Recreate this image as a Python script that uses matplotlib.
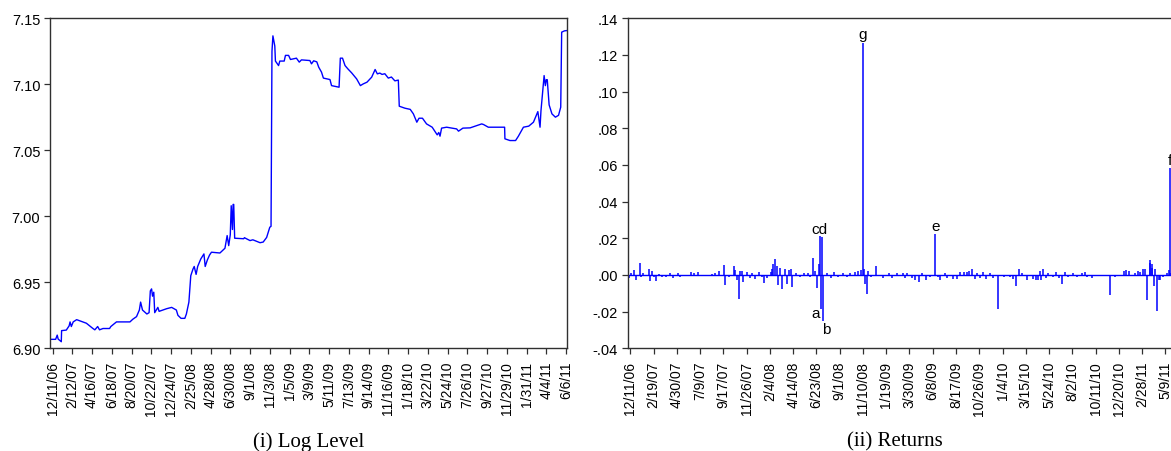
import numpy as np
import pandas as pd
import matplotlib
matplotlib.use("Agg")
import matplotlib.pyplot as plt
import matplotlib.dates as mdates
from matplotlib.ticker import FuncFormatter, FixedLocator

plt.rcParams['font.family'] = ['Liberation Sans', 'DejaVu Sans']

# (i) log level at its turning points
level_dates = [
    "2006-12-04", "2006-12-21", "2006-12-26", "2006-12-29", "2007-01-08", "2007-01-09",
    "2007-01-24", "2007-02-02", "2007-02-05", "2007-02-09", "2007-02-15", "2007-02-26",
    "2007-03-29", "2007-04-19", "2007-04-25", "2007-05-04", "2007-05-10", "2007-05-21",
    "2007-06-11", "2007-06-15", "2007-07-03", "2007-08-15", "2007-08-24", "2007-09-05",
    "2007-09-14", "2007-09-18", "2007-09-24", "2007-10-08", "2007-10-15", "2007-10-19",
    "2007-10-23", "2007-10-26", "2007-10-30", "2007-11-02", "2007-11-07", "2007-11-12",
    "2007-11-16", "2007-12-10", "2007-12-26", "2008-01-10", "2008-01-15", "2008-01-25",
    "2008-02-06", "2008-02-11", "2008-02-19", "2008-02-25", "2008-03-03", "2008-03-07",
    "2008-03-13", "2008-03-18", "2008-03-28", "2008-04-07", "2008-04-11", "2008-04-18",
    "2008-04-25", "2008-05-01", "2008-05-28", "2008-06-13", "2008-06-20", "2008-06-25",
    "2008-06-30", "2008-07-03", "2008-07-07", "2008-07-09", "2008-07-11", "2008-07-14",
    "2008-08-12", "2008-08-14", "2008-09-01", "2008-09-10", "2008-10-03", "2008-10-13",
    "2008-10-24", "2008-11-03", "2008-11-07", "2008-11-10", "2008-11-13", "2008-11-19",
    "2008-11-21", "2008-12-01", "2008-12-05", "2008-12-19", "2008-12-23", "2009-01-02",
    "2009-01-08", "2009-01-27", "2009-02-05", "2009-02-12", "2009-03-11", "2009-03-16",
    "2009-03-23", "2009-04-02", "2009-04-08", "2009-04-17", "2009-04-23", "2009-05-14",
    "2009-05-19", "2009-06-12", "2009-06-16", "2009-06-23", "2009-07-01", "2009-07-10",
    "2009-07-22", "2009-08-07", "2009-08-19", "2009-08-28", "2009-09-09", "2009-09-24",
    "2009-10-05", "2009-10-12", "2009-10-20", "2009-10-27", "2009-11-05", "2009-11-16",
    "2009-11-26", "2009-12-07", "2009-12-18", "2009-12-21", "2010-01-08", "2010-01-25",
    "2010-02-04", "2010-02-15", "2010-02-22", "2010-03-05", "2010-03-18", "2010-04-05",
    "2010-04-21", "2010-04-26", "2010-04-30", "2010-05-05", "2010-05-21", "2010-06-22",
    "2010-06-28", "2010-07-12", "2010-08-04", "2010-09-10", "2010-09-16", "2010-10-01",
    "2010-11-22", "2010-11-23", "2010-12-09", "2010-12-27", "2011-01-05", "2011-01-21",
    "2011-02-07", "2011-02-22", "2011-03-08", "2011-03-15", "2011-03-18", "2011-03-28",
    "2011-04-01", "2011-04-04", "2011-04-07", "2011-04-13", "2011-04-22", "2011-05-03",
    "2011-05-13", "2011-05-20", "2011-05-23", "2011-06-01", "2011-06-08",
]
level_vals = [
    6.9068, 6.9068, 6.9100, 6.9070, 6.9050, 6.9134,
    6.9138, 6.9170, 6.9200, 6.9165, 6.9200, 6.9217,
    6.9190, 6.9150, 6.9140, 6.9165, 6.9140, 6.9150,
    6.9150, 6.9165, 6.9200, 6.9200, 6.9220, 6.9240,
    6.9290, 6.9350, 6.9290, 6.9260, 6.9270, 6.9435,
    6.9450, 6.9395, 6.9425, 6.9270, 6.9290, 6.9310,
    6.9280, 6.9300, 6.9310, 6.9290, 6.9250, 6.9227,
    6.9227, 6.9260, 6.9350, 6.9550, 6.9600, 6.9620,
    6.9560, 6.9620, 6.9677, 6.9715, 6.9620, 6.9670,
    6.9707, 6.9728, 6.9722, 6.9758, 6.9854, 6.9778,
    6.9860, 7.0080, 6.9900, 7.0090, 7.0090, 6.9834,
    6.9830, 6.9838, 6.9816, 6.9822, 6.9800, 6.9805,
    6.9840, 6.9917, 6.9924, 7.1250, 7.1367, 7.1290,
    7.1176, 7.1142, 7.1176, 7.1176, 7.1219, 7.1219,
    7.1188, 7.1198, 7.1168, 7.1185, 7.1180, 7.1155,
    7.1178, 7.1170, 7.1130, 7.1092, 7.1047, 7.1036,
    7.0990, 7.0978, 7.1198, 7.1198, 7.1142, 7.1117,
    7.1087, 7.1041, 7.0990, 7.1003, 7.1016, 7.1054,
    7.1112, 7.1079, 7.1085, 7.1075, 7.1080, 7.1047,
    7.1055, 7.1026, 7.1032, 7.0834, 7.0819, 7.0810,
    7.0776, 7.0713, 7.0743, 7.0743, 7.0700, 7.0675,
    7.0617, 7.0635, 7.0607, 7.0668, 7.0675, 7.0662,
    7.0645, 7.0668, 7.0670, 7.0700, 7.0695, 7.0675,
    7.0675, 7.0587, 7.0574, 7.0574, 7.0607, 7.0675,
    7.0683, 7.0713, 7.0793, 7.0675, 7.0800, 7.1066,
    7.0990, 7.1035, 7.1035, 7.0844, 7.0776, 7.0751,
    7.0765, 7.0827, 7.1395, 7.1405, 7.1407,
]

# (ii) returns: the visible non-zero daily returns
ret_dates = [
    "2006-12-06", "2006-12-13", "2006-12-22", "2006-12-28", "2007-01-08", "2007-01-12",
    "2007-01-19", "2007-02-05", "2007-02-07", "2007-02-14", "2007-02-20", "2007-02-26",
    "2007-03-08", "2007-03-16", "2007-03-28", "2007-04-10", "2007-04-19", "2007-05-03",
    "2007-05-10", "2007-06-13", "2007-06-20", "2007-07-03", "2007-08-15", "2007-08-24",
    "2007-09-05", "2007-09-18", "2007-09-21", "2007-10-03", "2007-10-18", "2007-10-23",
    "2007-10-29", "2007-11-02", "2007-11-07", "2007-11-12", "2007-11-16", "2007-11-26",
    "2007-12-05", "2007-12-13", "2007-12-20", "2008-01-03", "2008-01-10", "2008-01-17",
    "2008-01-25", "2008-02-06", "2008-02-11", "2008-02-14", "2008-02-19", "2008-02-25",
    "2008-02-29", "2008-03-05", "2008-03-12", "2008-03-20", "2008-03-25", "2008-04-02",
    "2008-04-09", "2008-04-11", "2008-04-22", "2008-05-06", "2008-05-16", "2008-05-28",
    "2008-06-05", "2008-06-13", "2008-06-18", "2008-06-24", "2008-06-30", "2008-07-03",
    "2008-07-07", "2008-07-09", "2008-07-14", "2008-07-24", "2008-08-05", "2008-08-14",
    "2008-08-27", "2008-09-10", "2008-09-23", "2008-10-03", "2008-10-16", "2008-10-27",
    "2008-11-04", "2008-11-10", "2008-11-13", "2008-11-17", "2008-11-21", "2008-11-26",
    "2008-12-05", "2008-12-19", "2009-01-08", "2009-01-27", "2009-02-05", "2009-02-20",
    "2009-03-11", "2009-03-16", "2009-03-24", "2009-04-08", "2009-04-17", "2009-04-28",
    "2009-05-08", "2009-05-19", "2009-06-01", "2009-06-16", "2009-06-25", "2009-07-01",
    "2009-07-14", "2009-07-22", "2009-08-07", "2009-08-19", "2009-08-28", "2009-09-09",
    "2009-09-18", "2009-09-24", "2009-10-05", "2009-10-12", "2009-10-20", "2009-10-27",
    "2009-11-05", "2009-11-16", "2009-11-26", "2009-12-07", "2009-12-21", "2010-01-08",
    "2010-01-25", "2010-02-04", "2010-02-15", "2010-02-22", "2010-03-05", "2010-03-18",
    "2010-04-05", "2010-04-15", "2010-04-21", "2010-04-26", "2010-04-30", "2010-05-07",
    "2010-05-14", "2010-05-21", "2010-06-04", "2010-06-15", "2010-06-22", "2010-07-02",
    "2010-07-12", "2010-07-20", "2010-08-04", "2010-08-16", "2010-08-31", "2010-09-10",
    "2010-09-16", "2010-10-01", "2010-11-23", "2010-12-09", "2011-01-05", "2011-01-12",
    "2011-01-21", "2011-02-07", "2011-02-16", "2011-02-22", "2011-03-04", "2011-03-08",
    "2011-03-15", "2011-03-23", "2011-03-25", "2011-03-29", "2011-03-31", "2011-04-04",
    "2011-04-08", "2011-04-13", "2011-04-19", "2011-04-22", "2011-05-03", "2011-05-13",
    "2011-05-19", "2011-05-23", "2011-05-27", "2011-06-02",
]
ret_vals = [
    -0.0015, 0.0012, 0.0029, -0.0026, 0.0065, -0.0012,
    0.0010, 0.0032, -0.0031, 0.0023, -0.0010, -0.0031,
    0.0008, -0.0012, -0.0009, 0.0012, -0.0016, 0.0011,
    -0.0013, 0.0015, 0.0009, 0.0014, 0.0008, 0.0012,
    0.0020, 0.0054, -0.0055, -0.0010, 0.0047, 0.0025,
    -0.0030, -0.0131, 0.0020, 0.0023, -0.0040, 0.0015,
    -0.0015, 0.0012, -0.0020, 0.0015, -0.0012, -0.0046,
    -0.0015, 0.0018, 0.0030, 0.0060, 0.0087, 0.0050,
    -0.0053, 0.0036, -0.0077, 0.0030, -0.0050, 0.0025,
    0.0030, -0.0068, 0.0012, -0.0010, 0.0013, 0.0010,
    -0.0012, 0.0090, 0.0020, -0.0073, 0.0060, 0.0210,
    -0.0186, 0.0205, -0.0250, 0.0012, -0.0014, 0.0015,
    -0.0010, 0.0012, -0.0013, 0.0010, 0.0014, 0.0020,
    0.0028, 0.1268, 0.0030, -0.0050, -0.0104, 0.0020,
    -0.0012, 0.0047, -0.0015, 0.0010, -0.0016, 0.0012,
    0.0010, -0.0014, 0.0012, -0.0018, -0.0025, -0.0040,
    0.0010, -0.0030, -0.0012, 0.0223, -0.0013, -0.0025,
    0.0010, -0.0018, -0.0020, -0.0022, 0.0014, 0.0016,
    0.0018, 0.0020, 0.0030, -0.0020, 0.0012, -0.0014,
    0.0016, -0.0022, 0.0010, -0.0016, -0.0185, -0.0012,
    -0.0010, -0.0020, -0.0059, 0.0032, 0.0012, -0.0025,
    -0.0020, -0.0028, -0.0030, 0.0022, -0.0025, 0.0035,
    -0.0015, 0.0012, -0.0012, 0.0015, -0.0018, -0.0050,
    0.0018, -0.0012, 0.0010, -0.0011, 0.0012, 0.0018,
    -0.0010, -0.0015, -0.0108, -0.0012, 0.0020, 0.0025,
    0.0022, 0.0012, 0.0020, 0.0018, 0.0030, 0.0035,
    -0.0135, 0.0081, 0.0065, 0.0060, 0.0040, -0.0060,
    0.0030, -0.0195, -0.0025, -0.0030, -0.0012, 0.0012,
    0.0025, 0.0581, 0.0010, 0.0008,
]

# marked observations in the returns panel
mark_labels = ["c", "a", "d", "b", "g", "e", "f"]
mark_dates = ["2008-07-03", "2008-07-07", "2008-07-09", "2008-07-14",
              "2008-11-10", "2009-06-16", "2011-05-23"]

left_ticks = pd.date_range("2006-12-11", "2011-06-06", freq="63D")
right_ticks = pd.date_range("2006-12-11", "2011-06-06", freq="70D")

blue = "#0000ff"
dark = "#303030"
x0, x1 = pd.Timestamp("2006-12-03"), pd.Timestamp("2011-06-09")


def date_label(d):
    return f"{d.month}/{d.day}/{d.strftime('%y')}"


def style_axis(ax, ticks):
    ax.set_xlim(x0, x1)
    ax.xaxis.set_major_locator(FixedLocator(mdates.date2num(ticks)))
    ax.set_xticklabels([date_label(d) for d in ticks], rotation=90, fontsize=10)
    ax.tick_params(axis="x", direction="out", length=4, width=0.9, pad=5, colors=dark, labelcolor="black")
    ax.tick_params(axis="y", direction="out", length=4, width=0.9, pad=3, colors=dark, labelcolor="black", labelsize=10.5)
    for sp in ax.spines.values():
        sp.set_color(dark)
        sp.set_linewidth(1.0)


fig = plt.figure(figsize=(11.71, 4.52), dpi=100)

# left panel: log level
ax1 = fig.add_axes([0.0427, 0.2272, 0.4415, 0.7301])
ax1.plot(pd.to_datetime(level_dates), level_vals, color=blue, lw=1.0)
ax1.set_ylim(6.90, 7.15)
ax1.set_yticks([6.90, 6.95, 7.00, 7.05, 7.10, 7.15])
ax1.yaxis.set_major_formatter(FuncFormatter(lambda v, p: f"{v:.2f}"))
style_axis(ax1, left_ticks)

# right panel: returns (runs past the right edge, as in the source)
ax2 = fig.add_axes([0.5360, 0.2272, 0.4680, 0.7301])
ax2.axhline(0, color=blue, lw=1.0)
ax2.vlines(pd.to_datetime(ret_dates), 0, ret_vals, color=blue, lw=1.1)
ax2.set_ylim(-0.04, 0.14)
ax2.set_yticks(np.arange(-0.04, 0.141, 0.02))
ax2.yaxis.set_major_formatter(FuncFormatter(lambda v, p: f"{v:.2f}".replace("0.", ".")))
style_axis(ax2, right_ticks)

ret_lookup = dict(zip(ret_dates, ret_vals))
for lab, d in zip(mark_labels, mark_dates):
    v = ret_lookup[d]
    xd = pd.Timestamp(d)
    if lab == "c":
        ax2.annotate("cd", (xd, v), xytext=(0, 0), textcoords="offset points",
                     ha="center", va="bottom", fontsize=11)
    elif lab == "d":
        continue
    elif lab == "a":
        ax2.annotate(lab, (xd, v), xytext=(-1, -3), textcoords="offset points",
                     ha="right", va="center", fontsize=11)
    elif lab == "b":
        ax2.annotate(lab, (xd, v), xytext=(2, -1), textcoords="offset points",
                     ha="center", va="top", fontsize=11)
    else:
        ax2.annotate(lab, (xd, v), xytext=(0, 1), textcoords="offset points",
                     ha="center", va="bottom", fontsize=11, annotation_clip=False)

fig.text(308.5 / 1171, 0.012, "(i) Log Level", family=["Liberation Serif", "DejaVu Serif"],
         fontsize=15, ha="center", va="baseline")
fig.text(895 / 1171, 0.012, "(ii) Returns", family=["Liberation Serif", "DejaVu Serif"],
         fontsize=15, ha="center", va="baseline")

fig.savefig("out.png", dpi=100)
